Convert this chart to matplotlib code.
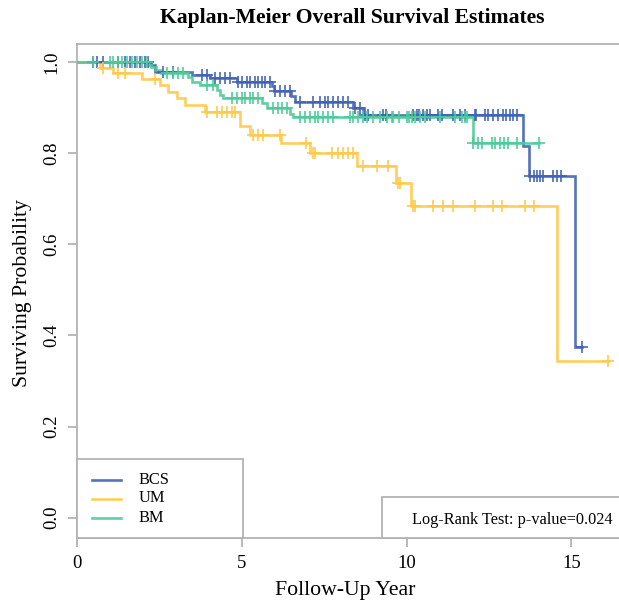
import numpy as np
import matplotlib
matplotlib.use("Agg")
import matplotlib.pyplot as plt
from matplotlib.patches import Rectangle

# ---------------- data ----------------
groups = ["BCS", "UM", "BM"]

bcs_event_t = [2.25, 2.35, 3.48, 4.03, 4.85, 5.90, 5.97, 6.50, 6.62, 8.38, 8.68, 13.54, 13.72, 15.11]
bcs_surv = [0.993, 0.977, 0.971, 0.964, 0.957, 0.948, 0.937, 0.925, 0.913, 0.900, 0.884, 0.816, 0.750, 0.374]
bcs_censor = [0.49, 0.59, 0.79, 1.24, 1.45, 1.60, 1.75, 1.90, 2.06, 2.16, 2.60, 2.90, 3.78, 3.93,
              4.18, 4.33, 4.48, 4.64, 4.89, 4.99, 5.14, 5.24, 5.40, 5.49, 5.60, 5.70, 5.85, 6.00,
              6.15, 6.31, 6.46, 6.76, 7.16, 7.37, 7.52, 7.62, 7.77, 7.92, 8.08, 8.23, 8.43, 8.58,
              8.73, 8.83, 9.29, 9.37, 10.20, 10.30, 10.38, 10.50, 10.61, 10.71, 10.96, 11.06,
              11.41, 11.62, 11.77, 12.07, 12.12, 12.38, 12.48, 12.63, 12.78, 12.93, 13.01, 13.14,
              13.24, 13.34, 13.74, 13.86, 13.95, 14.05, 14.15, 14.45, 14.55, 14.68, 15.33]

um_event_t = [0.69, 1.09, 1.95, 2.51, 2.75, 3.02, 3.27, 3.88, 4.94, 5.24, 6.20, 7.06, 8.48, 9.69, 10.12, 14.55]
um_surv = [0.986, 0.975, 0.962, 0.950, 0.935, 0.920, 0.906, 0.891, 0.860, 0.840, 0.823, 0.801,
           0.772, 0.734, 0.684, 0.344]
um_censor = [0.79, 1.24, 1.45, 2.36, 3.93, 4.23, 4.38, 4.54, 4.69, 4.79, 5.34, 5.48, 5.64, 6.15,
             6.95, 7.16, 7.22, 7.72, 7.92, 8.07, 8.22, 8.37, 8.67, 9.10, 9.44, 9.75, 9.80, 10.18,
             10.25, 10.79, 11.09, 11.40, 12.07, 12.63, 12.88, 13.59, 13.87, 16.11]

bm_event_t = [2.13, 2.25, 2.40, 2.55, 3.36, 3.48, 3.72, 4.23, 4.33, 4.43, 5.60, 5.75, 6.46, 6.55, 12.00]
bm_surv = [0.994, 0.988, 0.982, 0.975, 0.968, 0.957, 0.950, 0.939, 0.928, 0.920, 0.909, 0.898,
           0.886, 0.879, 0.823]
bm_censor = [0.49, 0.99, 1.09, 1.24, 1.35, 1.50, 1.65, 1.80, 1.96, 2.11, 2.71, 2.91, 3.07, 3.22,
             3.93, 4.13, 4.69, 4.84, 4.99, 5.09, 5.24, 5.34, 5.49, 5.95, 6.10, 6.21, 6.36, 6.76,
             6.91, 7.06, 7.22, 7.32, 7.47, 7.62, 7.77, 8.28, 8.38, 8.53, 8.68, 8.79, 8.99, 9.19,
             9.39, 9.54, 9.59, 9.78, 10.00, 10.08, 10.15, 10.25, 10.40, 10.56, 11.01, 11.47,
             11.67, 11.77, 11.82, 12.02, 12.17, 12.28, 12.58, 12.68, 12.83, 12.95, 13.08, 13.34,
             14.03]

x_ticks = [0, 5, 10, 15]
y_ticks = [0.0, 0.2, 0.4, 0.6, 0.8, 1.0]
pvalue_text = "Log-Rank Test: p-value=0.024"

colors = {"BCS": "#4363B8", "UM": "#FFC94A", "BM": "#4DCB9A"}
series = {
    "BCS": (bcs_event_t, bcs_surv, bcs_censor),
    "UM": (um_event_t, um_surv, um_censor),
    "BM": (bm_event_t, bm_surv, bm_censor),
}

# ---------------- figure ----------------
plt.rcParams['font.family'] = ['Liberation Serif', 'DejaVu Serif']
W, H = 619, 602
fig = plt.figure(figsize=(W / 100, H / 100), dpi=100)

def fx(px):
    return px / W

def fy(py):
    return 1 - py / H

ax_left, ax_right, ax_top, ax_bottom = 77.3, 626, 44, 538
ax = fig.add_axes([fx(ax_left), fy(ax_bottom), (ax_right - ax_left) / W, (ax_bottom - ax_top) / H])
ax.set_xlim(0, 16.66)
ax.set_ylim(-0.0445, 1.0395)

gray = "#b3b3b3"
for s in ["left", "top", "bottom"]:
    ax.spines[s].set_color(gray)
    ax.spines[s].set_linewidth(1.3)
ax.spines["right"].set_visible(False)

ax.set_xticks(x_ticks)
ax.set_xticklabels([str(v) for v in x_ticks])
ax.set_yticks(y_ticks)
ax.set_yticklabels([f"{v:.1f}" for v in y_ticks])
ax.tick_params(axis="both", colors=gray, length=6.5, width=1.3, labelsize=13.5,
               labelcolor="black", pad=5.5)
plt.setp(ax.get_yticklabels(), rotation=90, va="center")

for g in groups:
    et, sv, cens = series[g]
    last = max(cens[-1], et[-1])
    times = [0.0] + list(et) + [last]
    surv = [1.0] + list(sv) + [sv[-1]]
    ax.step(times, surv, where="post", color=colors[g], lw=1.9, alpha=0.9,
            solid_joinstyle="miter", zorder=3)
    levels = np.array([1.0] + list(sv))
    idx = np.searchsorted(np.array(et), np.array(cens), side="right")
    ax.plot(cens, levels[idx], linestyle="none", marker="+", markersize=8,
            markeredgewidth=1.3, color=colors[g], alpha=0.9, zorder=4)

# title and labels
fig.text(fx(352), fy(18), "Kaplan-Meier Overall Survival Estimates", ha="center", va="center",
         fontsize=15.6, fontweight="bold")
fig.text(fx(345), fy(591), "Follow-Up Year", ha="center", va="center", fontsize=15.7)
fig.text(fx(22), fy(293), "Surviving Probability", ha="center", va="center", fontsize=15.7,
         rotation=90)

# legend box
fig.patches.append(Rectangle((fx(ax_left), fy(ax_bottom)), (242.7 - ax_left) / W,
                             (ax_bottom - 459.3) / H, transform=fig.transFigure,
                             facecolor="white", edgecolor=gray, lw=1.3, zorder=5))
leg_y = [479.5, 498.5, 517.5]
for g, yy in zip(groups, leg_y):
    fig.lines.append(plt.Line2D([fx(92.3), fx(121)], [fy(yy), fy(yy)], transform=fig.transFigure,
                                color=colors[g], lw=1.9, alpha=0.9, zorder=6))
    fig.text(fx(138.3), fy(yy), g, ha="left", va="center", fontsize=11.8, zorder=6)

# log-rank box
fig.patches.append(Rectangle((fx(382.3), fy(ax_bottom)), (630 - 382.3) / W,
                             (ax_bottom - 497.3) / H, transform=fig.transFigure,
                             facecolor="white", edgecolor=gray, lw=1.3, zorder=5))
fig.text(fx(412.3), fy(520), pvalue_text, ha="left", va="center", fontsize=11.7, zorder=6)

fig.savefig("out.png", dpi=100)
